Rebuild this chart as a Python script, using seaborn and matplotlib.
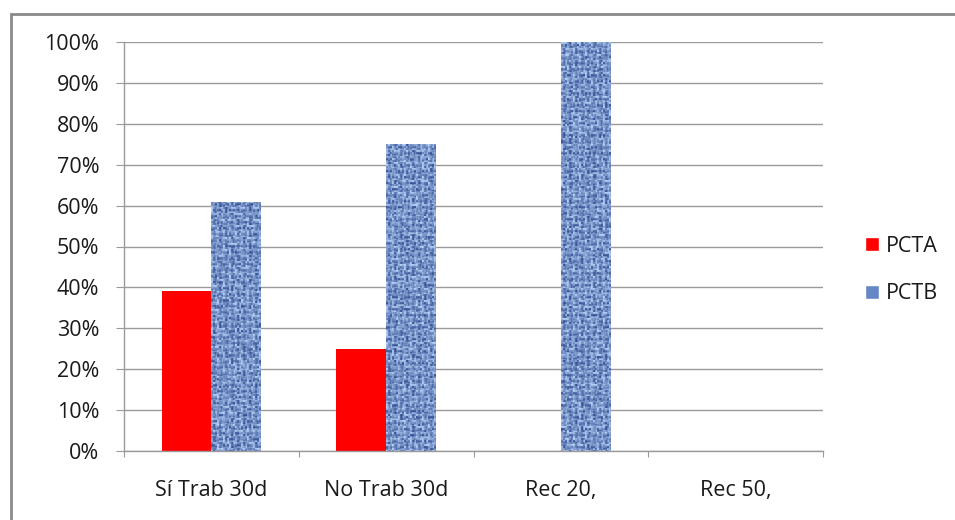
import numpy as np
import pandas as pd
import matplotlib
matplotlib.use("Agg")
import matplotlib.pyplot as plt
import seaborn as sns
from matplotlib.ticker import PercentFormatter, FixedLocator
from matplotlib.lines import Line2D
from matplotlib.patches import Patch

# ---- data ----
categories = ["Sí Trab 30d", "No Trab 30d", "Rec 20,", "Rec 50,"]
series = ["PCTA", "PCTB"]
pcta = [0.39, 0.25, 0.0, 0.0]
pctb = [0.61, 0.75, 1.0, 0.0]
y_ticks = [0.0, 0.1, 0.2, 0.3, 0.4, 0.5, 0.6, 0.7, 0.8, 0.9, 1.0]

df = pd.DataFrame({
    "categoria": categories * 2,
    "serie": [series[0]] * len(categories) + [series[1]] * len(categories),
    "valor": pcta + pctb,
})

colors = {"PCTA": "#ff0000", "PCTB": "#6587c6"}

sns.set_theme(style="white")
plt.rcParams["font.family"] = ["Open Sans", "DejaVu Sans"]
FS = 15.5

W, H = 955, 520
fig = plt.figure(figsize=(W / 100, H / 100), dpi=100)
ax_left, ax_right, ax_top, ax_bottom = 124, 823, 42, 451
ax = fig.add_axes([ax_left / W, 1 - ax_bottom / H,
                   (ax_right - ax_left) / W, (ax_bottom - ax_top) / H])

sns.barplot(data=df, x="categoria", y="valor", hue="serie", palette=colors,
            width=0.57, gap=0, linewidth=0, saturation=1, errorbar=None,
            legend=False, ax=ax)

ax.set_xlim(-0.5, 3.5)
ax.set_ylim(0, 1)


# woven blue fabric fill for the PCTB bars
def fabric(h_px, w_px, seed):
    rng = np.random.default_rng(seed)
    yy, xx = np.mgrid[0:h_px, 0:w_px]
    cell = 6
    ci, cj = yy // cell, xx // cell
    horiz = ((ci + cj) % 2 == 0)
    thread = np.where(horiz,
                      np.cos((yy % cell) / cell * 2 * np.pi),
                      np.cos((xx % cell) / cell * 2 * np.pi))
    noise = rng.random((h_px // 2 + 2, w_px // 2 + 2))
    noise = np.kron(noise, np.ones((2, 2)))[:h_px, :w_px]
    v = 0.55 + 0.2 * thread + 0.5 * (noise - 0.5)
    v = np.clip(v, 0, 1)[..., None]
    dark = np.array([0.15, 0.27, 0.54])
    light = np.array([0.72, 0.82, 0.97])
    return dark + (light - dark) * v


px_per_unit_y = ax_bottom - ax_top
px_per_unit_x = (ax_right - ax_left) / 4.0
for k, patch in enumerate(ax.containers[1].patches):
    x0, y0 = patch.get_x(), patch.get_y()
    w, h = patch.get_width(), patch.get_height()
    if h <= 0:
        continue
    tex = fabric(max(int(round(h * px_per_unit_y)), 2),
                 max(int(round(w * px_per_unit_x)), 2), seed=11 + k)
    im = ax.imshow(tex, extent=[x0, x0 + w, y0, y0 + h], aspect="auto",
                   interpolation="nearest", zorder=patch.get_zorder() + 0.1)
    im.set_clip_path(patch)

ax.set_xlim(-0.5, 3.5)
ax.set_ylim(0, 1)
ax.set_aspect("auto")

# axes styling
grey = "#9a9a9a"
ax.set_axisbelow(True)
ax.yaxis.grid(True, color=grey, linewidth=1)
ax.xaxis.grid(False)
for side in ("top", "right"):
    ax.spines[side].set_visible(False)
for side in ("left", "bottom"):
    ax.spines[side].set_color(grey)
    ax.spines[side].set_linewidth(1)

ax.set_yticks(y_ticks)
ax.yaxis.set_major_formatter(PercentFormatter(1.0, decimals=0))
ax.tick_params(axis="y", which="major", left=True, length=5.8, width=0.8,
               color=grey, direction="out", pad=12, labelsize=FS,
               labelcolor="#1a1a1a")

ax.set_xticks(range(len(categories)))
ax.set_xticklabels(categories)
ax.xaxis.set_minor_locator(FixedLocator([-0.5, 0.5, 1.5, 2.5, 3.5]))
ax.tick_params(axis="x", which="major", bottom=True, length=0, pad=21,
               labelsize=FS, labelcolor="#1a1a1a")
ax.tick_params(axis="x", which="minor", bottom=True, length=4.5, width=0.8,
               color=grey, direction="out")
ax.set_xlabel("")
ax.set_ylabel("")

# legend
handles = [Patch(facecolor=colors["PCTA"]), Patch(facecolor=colors["PCTB"])]
fig.legend(handles, series, loc="center left",
           bbox_to_anchor=(846 / W, 1 - 270 / H), frameon=False,
           handlelength=0.65, handleheight=0.65, handletextpad=0.3,
           labelspacing=1.25, fontsize=FS, labelcolor="#1a1a1a")

# chart frame
fig.add_artist(Line2D([11 / W, 11 / W, 1.0], [0.0, 1 - 14 / H, 1 - 14 / H],
                      transform=fig.transFigure, color="#8a8a8a",
                      linewidth=2.0, solid_joinstyle="miter"))

fig.savefig("out.png", dpi=100, facecolor="white")
